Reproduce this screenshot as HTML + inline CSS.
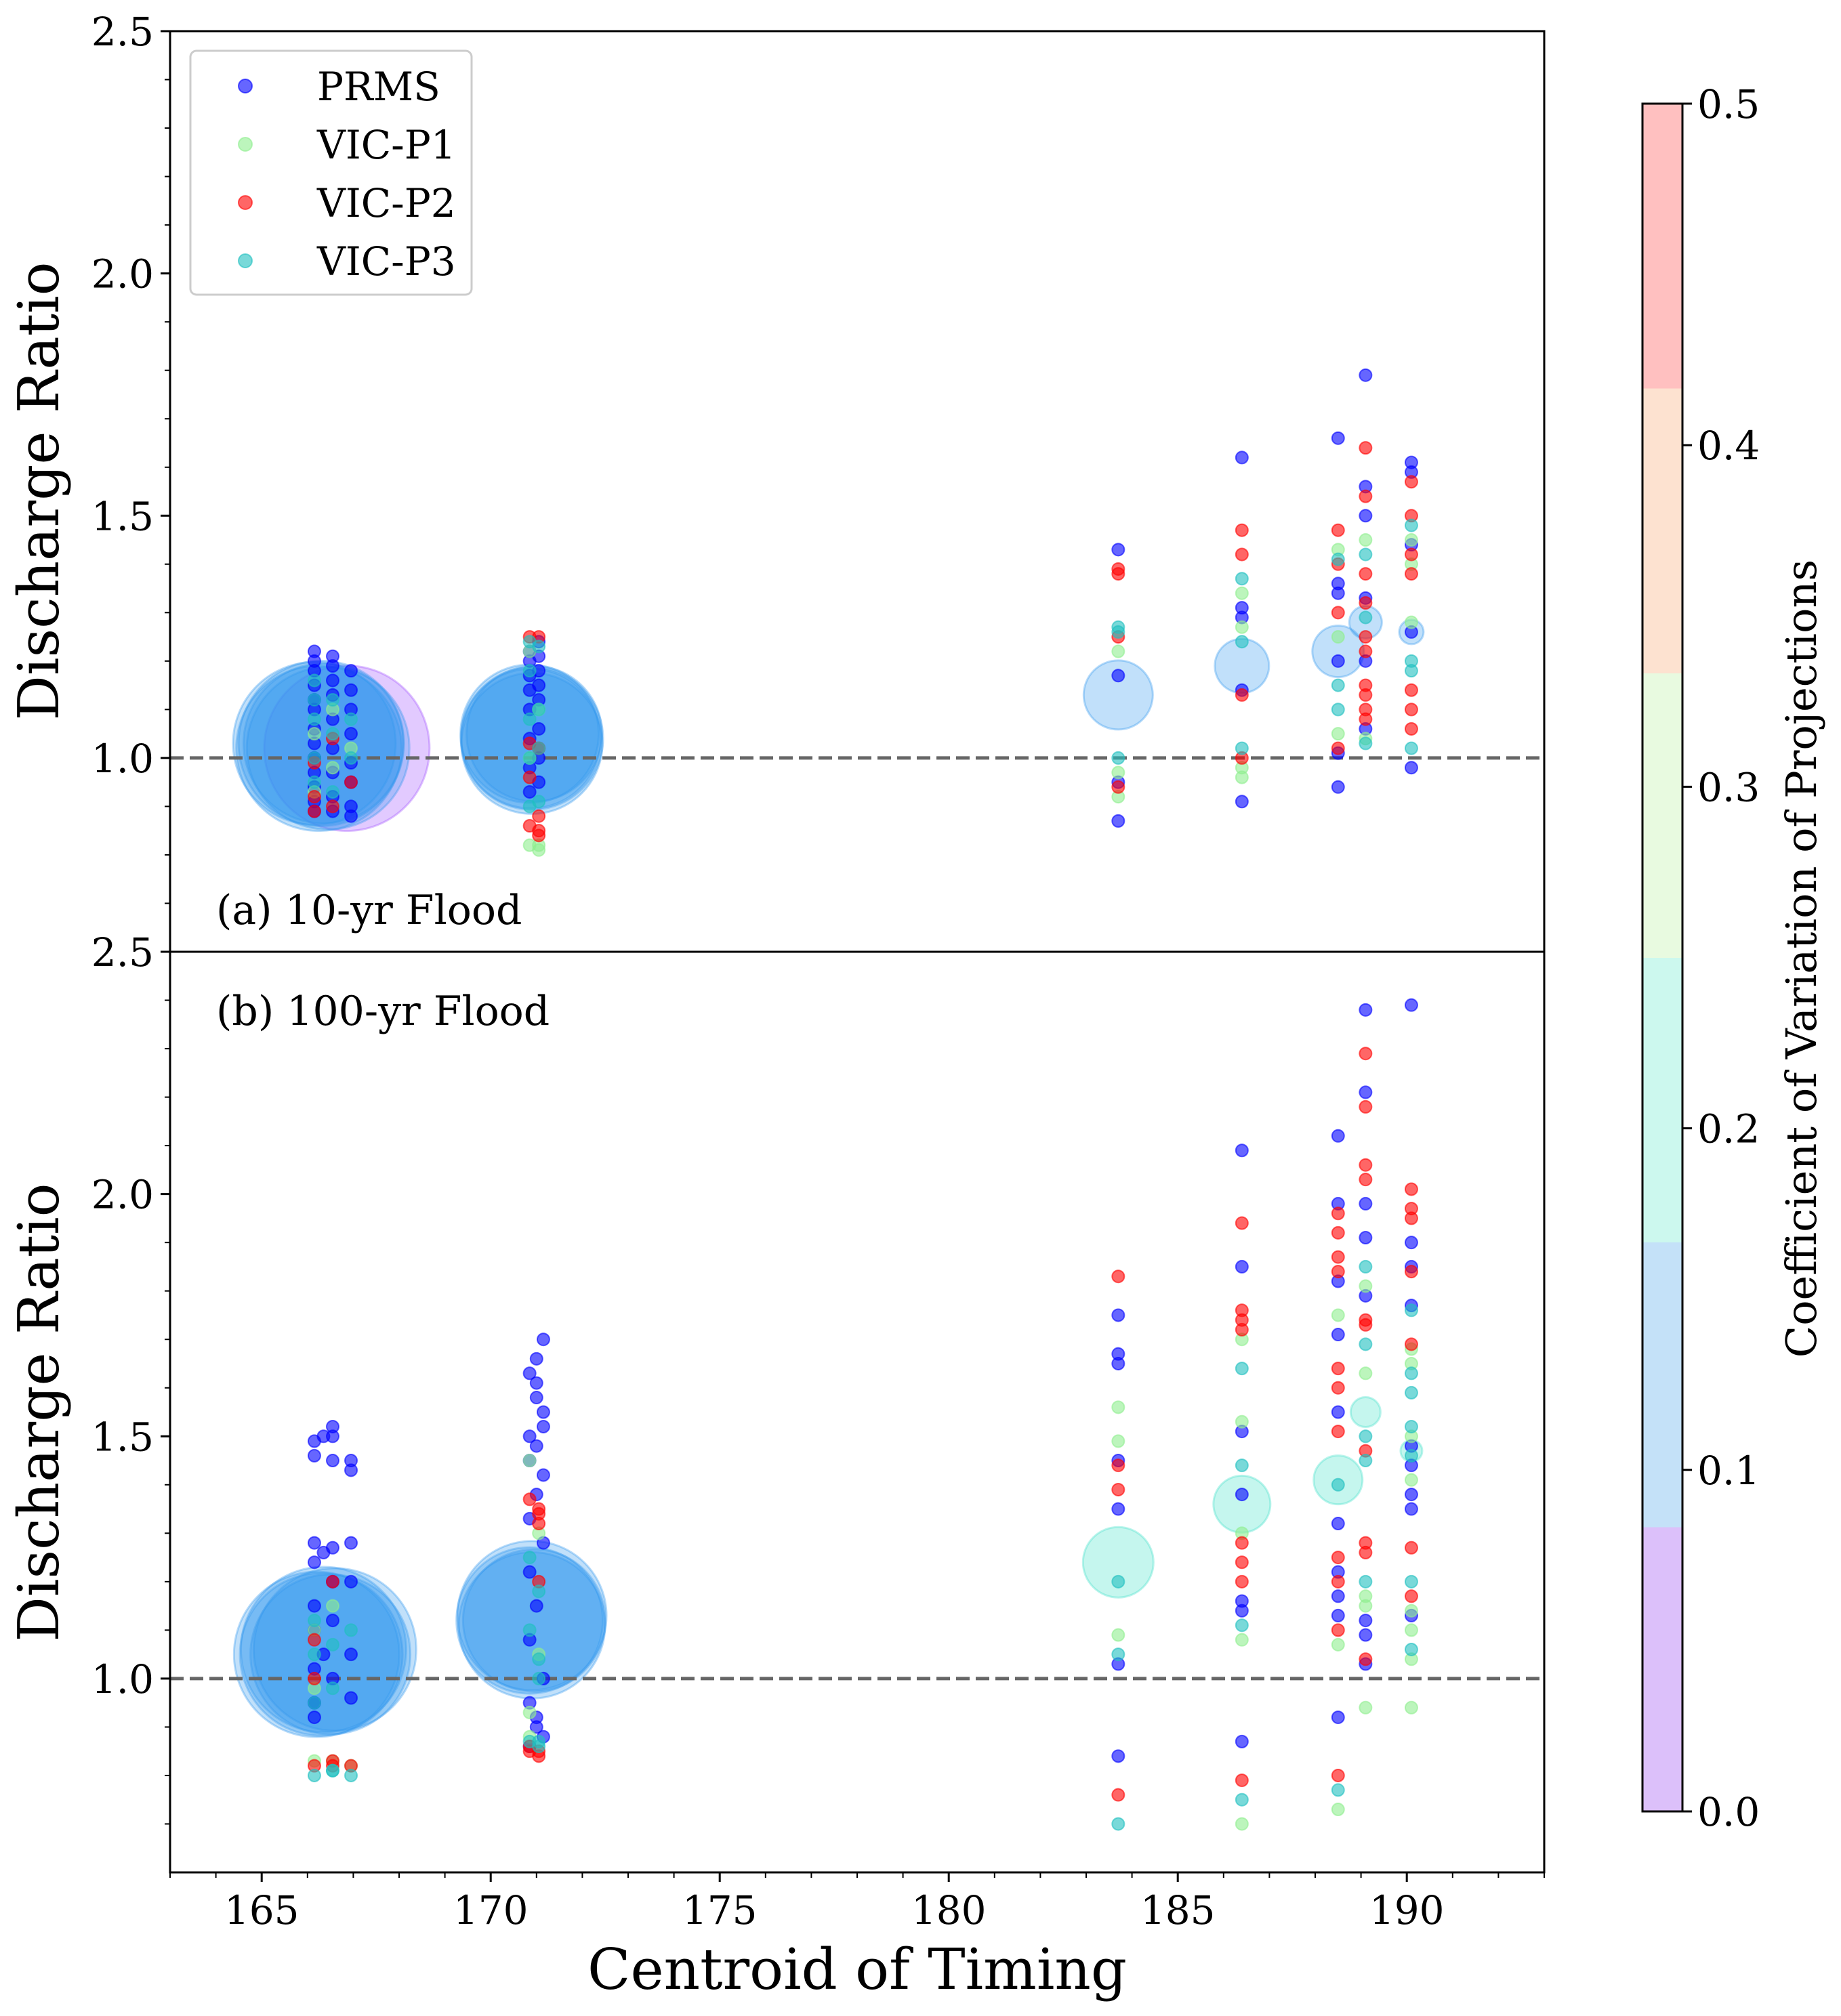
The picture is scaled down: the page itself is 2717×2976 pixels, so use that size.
<!DOCTYPE html>
<html><head><meta charset="utf-8"><style>
html,body{margin:0;padding:0;background:#fff;}
svg{display:block;}
text{font-family:"DejaVu Serif","Liberation Serif",serif;fill:#000;}
</style></head><body>
<svg id="chart" width="2717" height="2976" viewBox="0 0 2717 2976" xmlns="http://www.w3.org/2000/svg">
<g id="bubbles-top"></g>
<g id="bubbles-bot"></g>
<g id="refs"></g>
<g id="points"></g>
<g id="axes"></g>
<g id="legend">
  <rect x="281" y="75" width="415" height="360" rx="9" fill="#fff" fill-opacity="0.8" stroke="#cccccc" stroke-width="3"/>
  <circle cx="362" cy="127" r="10" fill="#0000ff" fill-opacity="0.6" stroke="#0000ff" stroke-opacity="0.6" stroke-width="2"/>
  <text x="468" y="148" font-size="58">PRMS</text>
  <circle cx="362" cy="213" r="10" fill="#90ee90" fill-opacity="0.6" stroke="#90ee90" stroke-opacity="0.6" stroke-width="2"/>
  <text x="468" y="234" font-size="58">VIC-P1</text>
  <circle cx="362" cy="299" r="10" fill="#ff0000" fill-opacity="0.6" stroke="#ff0000" stroke-opacity="0.6" stroke-width="2"/>
  <text x="468" y="320" font-size="58">VIC-P2</text>
  <circle cx="362" cy="385" r="10" fill="#20c0c0" fill-opacity="0.6" stroke="#20c0c0" stroke-opacity="0.6" stroke-width="2"/>
  <text x="468" y="406" font-size="58">VIC-P3</text>
</g>
<text x="319" y="1364" font-size="60">(a) 10-yr Flood</text>
<text x="319" y="1513" font-size="60">(b) 100-yr Flood</text>
<text x="0" y="0" font-size="83" text-anchor="middle" transform="translate(86,725) rotate(-90)">Discharge Ratio</text>
<text x="0" y="0" font-size="83" text-anchor="middle" transform="translate(86,2085) rotate(-90)">Discharge Ratio</text>
<text x="1265" y="2936" font-size="83" text-anchor="middle">Centroid of Timing</text>
<g id="cbar"></g>
<text x="0" y="0" font-size="62" text-anchor="middle" transform="translate(2680,1415) rotate(-90)">Coefficient of Variation of Projections</text>
</svg>
<script>
// ---- data ----
const xTicks = [165,170,175,180,185,190];
const yTicks = [1.0,1.5,2.0,2.5];
const cbarTicks = [0.0,0.1,0.2,0.3,0.4,0.5];
const cbarBands = [0,0.0833,0.1667,0.25,0.3333,0.4167,0.5];
function col(x, ys){ return ys.map(y=>[x,y]); }
const prmsTop = [].concat(
  col(166.15,[1.22,1.20,1.18,1.15,1.12,1.10,1.06,1.03,1.00,0.97,0.94,0.91,0.89]),
  col(166.55,[1.21,1.19,1.16,1.13,1.08,1.02,0.97,0.92,0.89]),
  col(166.95,[1.18,1.14,1.10,1.05,0.99,0.95,0.90,0.88]),
  col(170.85,[1.22,1.20,1.17,1.14,1.10,1.04,0.98,0.93]),
  col(171.05,[1.24,1.21,1.18,1.15,1.12,1.06,1.00,0.95]),
  col(183.7,[1.43,1.17,0.95,0.87]),
  col(186.4,[1.62,1.31,1.29,1.14,0.91]),
  col(188.5,[1.66,1.36,1.34,1.20,1.01,0.94]),
  col(189.1,[1.79,1.56,1.50,1.33,1.20,1.06]),
  col(190.1,[1.61,1.59,1.44,1.26,0.98]));
const p1Top = [].concat(
  col(166.15,[1.05,0.93]), col(166.55,[0.98,1.10]), col(166.95,[1.02]),
  col(170.85,[0.82,1.22,1.0]), col(171.05,[0.81,0.82,1.10]),
  col(183.7,[1.22,0.97,0.92]), col(186.4,[1.34,1.27,0.98,0.96]),
  col(188.5,[1.43,1.25,1.05]), col(189.1,[1.45,1.04]), col(190.1,[1.45,1.40,1.28]));
const p2Top = [].concat(
  col(166.15,[0.92,0.99,0.89]), col(166.55,[1.04,0.90]), col(166.95,[0.95]),
  col(170.85,[0.86,1.25,0.96,1.03]), col(171.05,[0.85,0.88,1.25,0.84,1.02]),
  col(183.7,[1.39,1.38,1.25,0.94]), col(186.4,[1.47,1.42,1.13,1.0]),
  col(188.5,[1.47,1.40,1.30,1.02]),
  col(189.1,[1.64,1.54,1.38,1.32,1.25,1.22,1.15,1.13,1.10,1.08]),
  col(190.1,[1.57,1.50,1.42,1.38,1.14,1.10,1.06]));
const p3Top = [].concat(
  col(166.15,[1.08,1.12,1.00,0.95,1.16]), col(166.55,[0.93,1.05,1.12]), col(166.95,[1.00,1.08]),
  col(170.85,[1.18,1.24,1.00,0.90,1.08]), col(171.05,[1.10,0.91,1.23,1.02]),
  col(183.7,[1.27,1.26,1.00]), col(186.4,[1.37,1.24,1.02]),
  col(188.5,[1.41,1.10,1.15]), col(189.1,[1.42,1.29,1.03]), col(190.1,[1.48,1.20,1.18,1.02]));
const prmsBot = [].concat(
  col(166.15,[1.49,1.46,1.28,1.24,1.15,1.10,1.02,0.95,0.92]),
  col(166.35,[1.50,1.26,1.05]),
  col(166.55,[1.52,1.50,1.45,1.27,1.20,1.12,1.00]),
  col(166.95,[1.45,1.43,1.28,1.20,1.05,0.96]),
  col(170.85,[1.63,1.50,1.45,1.33,1.22,1.08,0.95,0.86]),
  col(171.0,[1.66,1.61,1.58,1.48,1.38,1.15,0.90,0.92]),
  col(171.15,[1.70,1.55,1.52,1.42,1.28,1.00,0.88]),
  col(183.7,[1.75,1.67,1.65,1.45,1.35,1.03,0.84]),
  col(186.4,[2.09,1.85,1.51,1.38,1.16,1.14,0.87]),
  col(188.5,[2.12,1.98,1.82,1.71,1.55,1.32,1.22,1.17,1.13,0.92]),
  col(189.1,[2.38,2.21,1.98,1.91,1.79,1.12,1.09,1.03]),
  col(190.1,[2.39,1.90,1.85,1.77,1.48,1.44,1.38,1.35,1.13]));
const p1Bot = [].concat(
  col(166.15,[0.83,0.98,1.10]), col(166.55,[0.83,1.15]), col(166.95,[0.82]),
  col(170.85,[1.45,0.93,0.88]), col(171.05,[1.30,1.05]),
  col(183.7,[1.56,1.49,1.09]), col(186.4,[1.70,1.53,1.30,1.08,0.70]),
  col(188.5,[1.75,1.07,0.73]), col(189.1,[1.81,1.63,1.17,1.15,0.94]),
  col(190.1,[1.68,1.65,1.50,1.41,1.14,1.10,1.04,0.94]));
const p2Bot = [].concat(
  col(166.15,[0.82,1.08,1.00]), col(166.55,[0.83,0.82,1.20]), col(166.95,[0.82]),
  col(170.85,[1.37,0.86,0.85]), col(171.05,[1.34,1.35,1.32,0.85,0.84,1.20]),
  col(183.7,[1.83,1.44,1.39,0.76]), col(186.4,[1.94,1.76,1.74,1.72,1.28,1.24,1.20,0.79]),
  col(188.5,[1.96,1.92,1.87,1.84,1.64,1.60,1.51,1.25,1.20,1.10,0.80]),
  col(189.1,[2.29,2.18,2.06,2.03,1.74,1.73,1.47,1.28,1.26,1.04]),
  col(190.1,[2.01,1.97,1.95,1.84,1.69,1.27,1.17]));
const p3Bot = [].concat(
  col(166.15,[0.80,1.12,0.95,1.05]), col(166.55,[0.81,0.81,1.07,0.98]), col(166.95,[0.80,1.10]),
  col(170.85,[0.87,1.25,1.10]), col(171.05,[0.86,0.87,1.00,1.18,1.04]),
  col(183.7,[1.20,1.05,0.70]), col(186.4,[1.64,1.44,1.11,0.75]),
  col(188.5,[1.40,0.77]), col(189.1,[1.85,1.69,1.50,1.45,1.20]),
  col(190.1,[1.76,1.63,1.59,1.52,1.46,1.20,1.06]));
// bubbles: [x, y, radius(px size), cv]
const bubTop = [[166.86,1.02,122,0.05],[166.15,1.03,120,0.12],[166.25,1.02,122,0.11],[166.35,1.03,118,0.12],[166.45,1.02,120,0.13],[166.3,1.03,122,0.12],
  [170.85,1.05,102,0.12],[170.9,1.04,105,0.11],[170.95,1.05,100,0.13],[170.9,1.03,104,0.12],[170.88,1.04,103,0.12],
  [183.7,1.13,51,0.12],[186.4,1.19,40,0.12],[188.5,1.22,38,0.12],[189.1,1.28,24,0.13],[190.1,1.26,18,0.13]];
const bubBot = [[166.2,1.05,122,0.12],[166.35,1.06,122,0.11],[166.5,1.05,118,0.12],[166.6,1.06,120,0.13],[166.3,1.05,120,0.12],
  [170.85,1.12,108,0.12],[170.9,1.13,110,0.11],[170.95,1.12,105,0.12],[170.9,1.11,108,0.12],
  [183.7,1.24,52,0.21],[186.4,1.36,42,0.21],[188.5,1.41,36,0.23],[189.1,1.55,22,0.2],[190.1,1.47,16,0.2]];

// ---- scales ----
const X0=251, X1=2279, XMIN=163, XMAX=193;
const X = v => X0 + (v-XMIN)*(X1-X0)/(XMAX-XMIN);
const panels = [{top:46,bot:1405},{top:1405,bot:2764}];
const YMIN=0.6, YMAX=2.5;
const Yf = p => v => p.top + (YMAX-v)*(p.bot-p.top)/(YMAX-YMIN);
const Yt = Yf(panels[0]), Yb = Yf(panels[1]);
const NS="http://www.w3.org/2000/svg";
function mk(tag, attrs, parent){ const e=document.createElementNS(NS,tag); for(const k in attrs) e.setAttribute(k,attrs[k]); parent.appendChild(e); return e; }
const bandBase=['#a050ff','#3399ee','#40e0c8','#a0f0a0','#ffb080','#ff6060'];
function cvColor(cv){ const i=Math.max(0,Math.min(5,Math.floor(cv/0.5*6))); return bandBase[i]; }

// bubbles
function drawBubbles(arr, Y, g){
  arr.forEach(b=>{
    const c = cvColor(b[3]);
    const el = mk('circle',{cx:X(b[0]),cy:Y(b[1]),r:b[2],fill:c,'fill-opacity':0.3,stroke:c,'stroke-opacity':0.35,'stroke-width':3},g);
    
    
  });
}
drawBubbles(bubTop, Yt, document.getElementById('bubbles-top'));
drawBubbles(bubBot, Yb, document.getElementById('bubbles-bot'));

// reference lines
const refs=document.getElementById('refs');
[Yt,Yb].forEach((Y,i)=>{
  const l=mk('line',{x1:X0,x2:X1,y1:Y(1.0),y2:Y(1.0),stroke:'#666666','stroke-width':5,'stroke-dasharray':'20,9'},refs);
  
  
});

// points
const pg=document.getElementById('points');
const series=[['prms','#0000ff',prmsTop,prmsBot],['vic-p1','#90ee90',p1Top,p1Bot],['vic-p2','#ff0000',p2Top,p2Bot],['vic-p3','#20c0c0',p3Top,p3Bot]];
series.forEach(s=>{
  [[s[2],Yt],[s[3],Yb]].forEach(([arr,Y])=>{
    arr.forEach(p=>{
      const c=mk('circle',{cx:X(p[0]),cy:Y(p[1]),r:9,fill:s[1],'fill-opacity':0.6,stroke:s[1],'stroke-opacity':0.6,'stroke-width':2},pg);
      
      
    });
  });
});

// axes
const ax=document.getElementById('axes');
panels.forEach((p,i)=>{
  const Y=i?Yb:Yt;
  const r=mk('rect',{x:X0,y:p.top,width:X1-X0,height:p.bot-p.top,fill:'none',stroke:'#000','stroke-width':3},ax);
  
  
  for(let k=7;k<=25;k++){
    const v=k/10, major=(k%5===0);
    const t=mk('line',{x1:X0,x2:X0-(major?14:8),y1:Y(v),y2:Y(v),stroke:'#000','stroke-width':major?3:2},ax);
    
    
  }
  yTicks.forEach(v=>{
    const tx=mk('text',{x:X0-24,y:Y(v)+21,'font-size':58,'text-anchor':'end'},ax);
    tx.textContent=v.toFixed(1);
    
    
  });
});
for(let v=163;v<=193;v++){
  const major=(v%5===0);
  const t=mk('line',{x1:X(v),x2:X(v),y1:2764,y2:2764+(major?14:8),stroke:'#000','stroke-width':major?3:2},ax);
  
  
}
xTicks.forEach(v=>{
  const tx=mk('text',{x:X(v),y:2840,'font-size':58,'text-anchor':'middle'},ax);
  tx.textContent=String(v);
  
  
});

// colorbar
const cb=document.getElementById('cbar');
const CB={x:2424,w:59,top:153,bot:2674};
const CY=v=>CB.bot-(v/0.5)*(CB.bot-CB.top);
const bandColors=['#dcc0fa','#c4e1f8','#ccf8ee','#e8fae0','#fde2d0','#ffc0c0'];
for(let i=0;i<6;i++){
  const r=mk('rect',{x:CB.x,y:CY(cbarBands[i+1]),width:CB.w,height:CY(cbarBands[i])-CY(cbarBands[i+1])+0.5,fill:bandColors[i]},cb);
  
  
}
const cbo=mk('rect',{x:CB.x,y:CB.top,width:CB.w,height:CB.bot-CB.top,fill:'none',stroke:'#000','stroke-width':3},cb);


cbarTicks.forEach(v=>{
  const t=mk('line',{x1:CB.x+CB.w,x2:CB.x+CB.w+14,y1:CY(v),y2:CY(v),stroke:'#000','stroke-width':3},cb);
  
  
  const tx=mk('text',{x:CB.x+CB.w+22,y:CY(v)+21,'font-size':58},cb);
  tx.textContent=v.toFixed(1);
  
  
});
</script>
</body></html>
